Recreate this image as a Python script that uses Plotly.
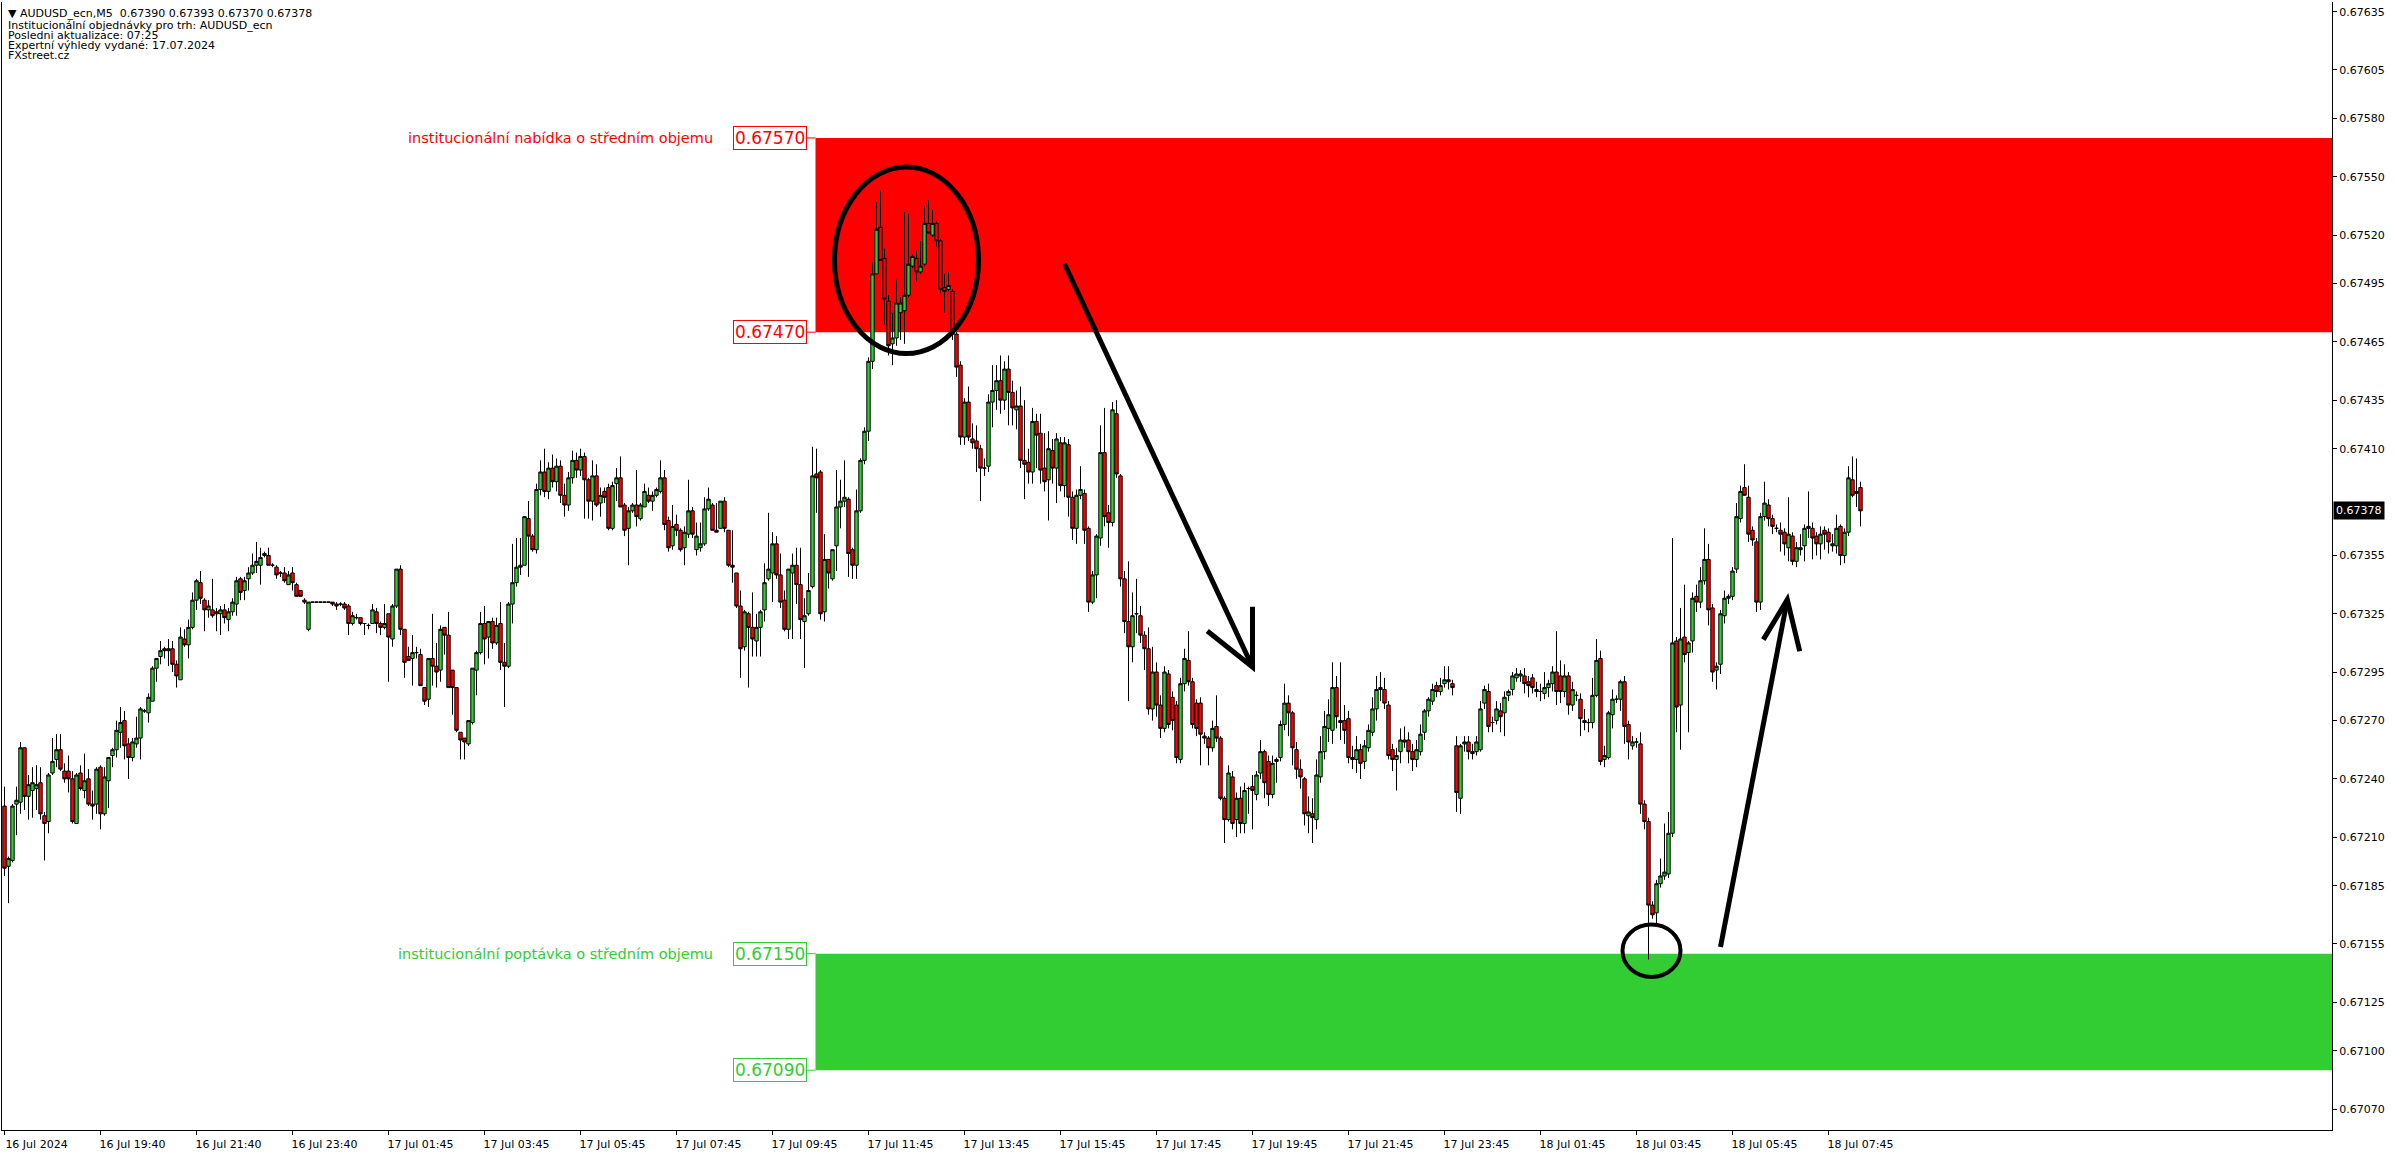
import plotly.graph_objects as go

# ---------------- data (prices in points above 0.67000, M5 bars) ----------------
BASE = 0.67

OPEN_PTS = [
    226,195,198,227,228,256,231,234,235,238, 221,218,243,250,255,244,244,240,217,243,
    234,240,227,227,246,222,239,252,255,264, 270,258,251,258,261,275,274,280,297,303,
    307,306,307,299,291,312,309,318,332,341, 332,327,327,325,325,327,322,326,330,343,
    337,343,346,350,350,355,355,350,349,346, 346,340,346,340,337,332,317,331,331,331,
    331,331,331,330,330,330,329,320,323,323, 320,319,320,326,320,318,325,312,329,348,
    317,303,302,305,304,287,281,302,298,296, 318,314,296,287,264,261,258,269,296,305,
    320,313,321,310,320,300,298,330,341,349, 350,374,365,358,389,398,388,400,393,401,
    386,381,395,404,399,406,394,383,396,382, 388,390,369,392,395,381,369,378,381,374,
    380,386,383,386,388,395,373,360,371,368, 359,366,378,358,359,361,379,381,368,369,
    383,368,350,346,329,308,325,318,311,318, 327,343,346,361,345,332,317,346,350,340,
    321,325,339,397,398,326,353,343,360,380, 383,384,358,350,378,404,419,455,500,524,
    508,486,464,467,480,481,489,504,508,501, 505,526,520,526,517,493,492,491,469,453,
    416,434,415,414,410,400,401,434,440,445, 435,451,439,430,432,404,403,398,424,418,
    400,394,409,400,413,391,412,385,369,386, 387,369,331,345,364,408,377,372,428,396,
    343,321,308,325,324,314,307,276,295,278, 266,294,282,278,250,289,301,290,279,279,
    262,261,256,267,261,230,219,241,219,230, 217,235,236,232,243,254,249,232,249,251,
    268,279,274,255,245,240,221,222,219,241, 254,266,265,287,270,270,271,251,250,255,
    249,256,264,276,286,286,278,255,250,254, 260,260,254,250,254,264,275,280,288,285,
    289,291,289,257,230,258,259,253,254,255, 279,285,269,270,275,274,283,286,292,293,
    293,290,292,286,285,284,287,289,295,293, 285,293,278,283,281,270,269,269,283,302,
    250,251,273,281,281,290,268,257,259,258, 227,218,175,171,186,190,191,212,311,278,
    313,305,311,334,331,342,353,328,296,299, 324,333,334,348,374,390,385,368,362,331,
    375,381,374,369,368,367,359,365,352,358, 360,370,369,365,361,368,367,360,360,370,
    355,367,394,388,390,
]

HIGH_PTS = [
    236,200,227,236,259,256,242,246,247,246, 223,243,261,263,263,248,252,244,243,247,
    253,245,234,246,247,246,251,256,270,277, 275,261,261,272,277,276,284,298,302,311,
    308,312,311,301,318,317,322,336,343,347, 333,332,343,328,329,330,328,333,344,344,
    344,349,356,362,359,357,359,351,350,347, 349,347,349,341,337,333,331,331,331,331,
    331,331,331,331,331,331,330,326,325,323, 320,320,330,328,321,330,325,330,348,350,
    317,308,314,308,307,287,302,325,310,319, 318,326,296,287,264,261,270,297,306,326,
    329,321,323,323,331,310,331,361,364,364, 375,383,366,392,404,410,403,407,405,404,
    392,398,409,408,410,408,395,404,402,390, 390,392,393,400,406,382,380,382,399,382,
    392,390,388,390,404,399,375,381,376,369, 370,394,380,372,372,385,390,382,382,383,
    385,368,368,346,337,327,326,336,325,327, 351,377,367,365,356,337,348,356,359,359,
    333,346,411,410,399,366,353,358,399,394, 404,385,359,389,405,421,457,506,537,543,
    513,489,480,497,488,532,531,510,512,517, 535,538,533,527,518,500,501,492,470,455,
    436,442,423,422,412,405,438,453,453,458, 455,458,445,440,442,435,410,431,428,428,
    418,419,415,418,416,416,415,388,389,401, 389,370,347,366,422,431,381,434,435,397,
    347,352,336,343,329,316,318,308,300,283, 298,296,285,280,292,307,316,292,281,282,
    264,262,270,283,262,231,247,244,233,236, 238,236,242,244,260,255,252,252,251,270,
    289,283,275,259,250,241,231,230,250,262, 275,281,300,293,300,278,275,257,262,258,
    260,268,282,293,295,292,280,258,256,266, 267,264,258,260,268,276,282,289,290,292,
    298,298,291,262,258,262,262,258,262,280, 288,289,272,280,279,285,286,295,297,296,
    297,293,294,290,289,295,291,298,316,301, 299,295,290,285,284,276,271,292,312,306,
    257,275,286,283,291,293,270,262,261,264, 229,220,177,188,199,217,223,364,313,328,
    340,311,336,340,349,369,361,330,300,327, 337,335,349,382,391,402,391,370,364,377,
    393,384,376,371,372,369,385,367,362,366, 371,388,372,367,370,370,369,366,376,371,
    369,401,406,405,393,
]

LOW_PTS = [
    190,176,197,211,222,224,219,220,224,219, 198,212,242,246,244,238,233,217,217,234,
    230,226,219,222,214,221,225,246,251,256, 250,240,249,256,250,274,269,280,290,299,
    302,298,295,287,291,308,302,317,327,330, 316,323,323,316,314,320,316,324,324,332,
    332,337,345,346,340,354,350,349,343,344, 341,340,337,334,334,330,316,331,331,331,
    331,331,329,327,329,327,314,319,322,319, 314,317,320,315,314,317,290,308,328,314,
    292,301,288,302,288,278,277,288,287,290, 304,287,273,264,250,250,257,268,283,304,
    299,302,307,309,296,277,297,320,339,345, 350,344,357,356,386,385,384,390,388,382,
    375,378,392,395,396,374,374,373,380,375, 382,368,368,383,380,365,350,377,370,373,
    380,382,378,385,387,368,357,358,365,357, 350,364,364,355,357,360,378,368,367,369,
    367,349,341,328,292,306,287,303,303,303, 321,342,331,343,328,316,312,312,330,312,
    297,324,338,377,322,321,338,342,347,369, 380,344,343,343,377,402,414,451,500,507,
    474,458,453,463,466,464,488,503,496,500, 504,521,519,514,490,480,491,466,447,412,
    412,414,410,398,383,396,398,421,430,428, 430,422,422,420,400,384,392,392,400,392,
    388,373,392,382,388,385,375,363,361,384, 361,326,330,333,360,370,359,370,395,339,
    315,280,300,315,310,296,273,270,272,261, 264,266,265,248,248,285,288,266,262,247,
    258,247,254,259,229,207,218,214,210,212, 212,222,214,229,240,230,226,230,238,249,
    265,262,247,240,235,216,212,207,214,238, 250,259,258,266,260,258,248,245,243,240,
    245,254,262,270,280,276,250,244,234,248, 256,248,244,246,252,260,272,278,282,283,
    287,286,283,223,222,254,250,250,252,254, 276,264,264,268,264,262,280,283,290,290,
    284,282,284,282,280,281,282,285,278,279, 282,273,275,280,262,265,264,266,282,247,
    246,250,266,279,275,258,250,255,256,222, 214,147,168,164,184,188,189,210,264,255,
    300,264,305,326,328,340,319,290,286,294, 320,330,332,346,372,386,362,360,326,327,
    373,370,366,367,357,355,352,350,349,355, 352,364,353,355,353,358,356,357,356,350,
    351,365,385,380,370,
]

CLOSE_PTS = [
    194,199,226,229,256,231,237,238,237,222, 217,242,249,255,245,240,240,218,242,235,
    239,227,226,245,222,241,251,255,265,269, 257,251,259,261,276,275,282,297,302,306,
    306,307,299,293,313,309,318,332,342,333, 327,329,324,326,327,323,326,331,342,336,
    342,346,350,352,354,356,350,350,345,346, 342,345,341,334,334,331,331,331,331,331,
    331,331,330,329,330,328,320,324,323,320, 320,319,327,320,318,320,313,329,348,317,
    300,301,305,305,288,280,302,298,295,317, 314,287,287,265,260,259,270,297,305,320,
    312,321,310,319,300,298,330,341,349,350, 375,365,358,389,398,388,400,393,401,386,
    381,395,404,399,406,394,383,396,381,386, 385,369,391,395,380,368,378,381,375,381,
    388,383,386,389,395,371,359,370,368,358, 367,378,366,365,361,379,384,368,367,383,
    369,350,349,329,307,326,318,312,318,326, 341,348,361,345,331,317,348,350,340,322,
    324,337,396,395,325,353,346,358,380,383, 385,356,350,378,404,419,455,500,523,507,
    487,463,467,485,485,489,505,509,501,504, 526,521,526,517,492,491,494,469,452,416,
    434,416,413,410,400,400,434,440,445,435, 451,439,431,432,404,402,398,424,417,399,
    393,410,400,415,391,413,385,369,386,389, 368,331,345,365,408,375,372,430,397,343,
    321,308,324,325,314,307,276,295,278,266, 295,268,270,251,289,302,290,268,266,263,
    261,256,266,261,230,219,243,217,230,217, 234,235,234,242,254,238,232,248,250,268,
    279,274,256,245,241,222,223,220,242,254, 267,273,287,272,269,265,251,250,255,248,
    257,265,276,286,287,279,252,250,252,260, 259,254,250,255,263,275,281,286,285,288,
    291,290,287,233,257,259,254,254,259,276, 286,267,269,276,272,282,285,293,294,294,
    289,288,287,285,285,287,289,295,285,285, 293,278,286,283,271,269,269,283,301,249,
    252,274,281,281,290,267,259,259,259,227, 218,175,170,186,190,192,212,310,277,312,
    304,310,333,331,342,353,327,295,298,325, 333,334,347,375,388,386,366,363,331,375,
    382,374,370,369,366,361,366,352,359,359, 369,369,364,361,366,366,362,361,369,355,
    367,395,386,387,378,
]

X_TICK_BARS = [0, 24, 48, 72, 96, 120, 144, 168, 192, 216, 240, 264, 288, 312,
               336, 360, 384, 408, 432, 456]
X_TICK_TEXT = ["16 Jul 2024", "16 Jul 19:40", "16 Jul 21:40", "16 Jul 23:40",
               "17 Jul 01:45", "17 Jul 03:45", "17 Jul 05:45", "17 Jul 07:45",
               "17 Jul 09:45", "17 Jul 11:45", "17 Jul 13:45", "17 Jul 15:45",
               "17 Jul 17:45", "17 Jul 19:45", "17 Jul 21:45", "17 Jul 23:45",
               "18 Jul 01:45", "18 Jul 03:45", "18 Jul 05:45", "18 Jul 07:45"]
Y_TICK_VALS = [0.67635, 0.67605, 0.67580, 0.67550, 0.67520, 0.67495, 0.67465,
               0.67435, 0.67410, 0.67355, 0.67325, 0.67295, 0.67270, 0.67240,
               0.67210, 0.67185, 0.67155, 0.67125, 0.67100, 0.67070]
Y_TICK_TEXT = ["%.5f" % v for v in Y_TICK_VALS]

LAST_PRICE = 0.67378
HEADER_LINES = ["\u25BC AUDUSD_ecn,M5  0.67390 0.67393 0.67370 0.67378",
                "Institucionální objednávky pro trh: AUDUSD_ecn",
                "Posledni aktualizace: 07:25",
                "Expertní výhledy vydané: 17.07.2024",
                "FXstreet.cz"]

SUPPLY_ZONE = (0.67470, 0.67570)
DEMAND_ZONE = (0.67090, 0.67150)
SUPPLY_LABEL = "institucionální nabídka o středním objemu"
DEMAND_LABEL = "institucionální poptávka o středním objemu"
ZONE_START_BAR = 202.75

# drawn annotations (bar index, price)
ELLIPSE_TOP = (207.5, 243.5, 0.67459, 0.67555)
ELLIPSE_LOW = (404.5, 419.0, 0.67138, 0.67165)
ARROW_DOWN = [(265.0, 0.675052), (312.0, 0.672976)]
ARROW_DOWN_HEAD = [(312.0, 0.673286), (312.0, 0.672976), (300.7, 0.673161)]
ARROW_UP = [(429.0, 0.671534), (445.7, 0.673323)]
ARROW_UP_HEAD = [(439.7, 0.673117), (445.7, 0.673323), (448.8, 0.673057)]

X_RANGE = [-0.625, 581.875]
Y_RANGE = [0.670592, 0.676400]

# ---------------- figure ----------------
def to_price(lst):
    return [round(BASE + p / 1e5, 5) for p in lst]

bars = list(range(len(CLOSE_PTS)))
FONT = "DejaVu Sans"
RED = "#FF0000"
GREEN = "#32CD32"

fig = go.Figure(go.Candlestick(
    x=bars, open=to_price(OPEN_PTS), high=to_price(HIGH_PTS),
    low=to_price(LOW_PTS), close=to_price(CLOSE_PTS),
    increasing=dict(line=dict(color="black", width=1), fillcolor=GREEN),
    decreasing=dict(line=dict(color="black", width=1), fillcolor=RED),
    whiskerwidth=0, hoverinfo="skip", showlegend=False,
))

shapes = []
for (y0, y1), col in ((SUPPLY_ZONE, RED), (DEMAND_ZONE, GREEN)):
    shapes.append(dict(type="rect", xref="x", yref="y", x0=ZONE_START_BAR, x1=X_RANGE[1],
                       y0=y0, y1=y1, fillcolor=col, line=dict(width=0), layer="below"))
    for yy in (y0, y1):
        shapes.append(dict(type="line", xref="x", yref="y", x0=200.5, x1=ZONE_START_BAR,
                           y0=yy, y1=yy, line=dict(color=col, width=1)))

for (x0, x1, y0, y1), w in ((ELLIPSE_TOP, 5), (ELLIPSE_LOW, 4)):
    shapes.append(dict(type="circle", xref="x", yref="y", x0=x0, x1=x1, y0=y0, y1=y1,
                       line=dict(color="black", width=w)))

def path_of(pts):
    return "M " + " L ".join("%s,%s" % (x, y) for x, y in pts)

for pts in (ARROW_DOWN, ARROW_DOWN_HEAD, ARROW_UP, ARROW_UP_HEAD):
    shapes.append(dict(type="path", xref="x", yref="y", path=path_of(pts),
                       line=dict(color="black", width=5)))

annotations = []
for i, line in enumerate(HEADER_LINES):
    yc = 13 if i == 0 else 15 + 10 * i
    annotations.append(dict(xref="paper", yref="paper", x=0, y=1, xanchor="left",
                            yanchor="middle", xshift=4, yshift=-(yc - 2),
                            text=line, showarrow=False,
                            font=dict(family=FONT, size=11, color="black")))

for (y0, y1), col, label in ((SUPPLY_ZONE, RED, SUPPLY_LABEL), (DEMAND_ZONE, GREEN, DEMAND_LABEL)):
    annotations.append(dict(xref="x", yref="y", x=177.5, y=y1, xanchor="right",
                            yanchor="middle", text=label, showarrow=False,
                            font=dict(family=FONT, size=14.5, color=col)))
    for yy in (y0, y1):
        annotations.append(dict(xref="x", yref="y", x=200.5, y=yy, xanchor="right",
                                yanchor="middle", text="%.5f" % yy, showarrow=False,
                                bordercolor=col, borderwidth=1, borderpad=1,
                                bgcolor="white",
                                font=dict(family=FONT, size=17, color=col)))

annotations.append(dict(xref="paper", yref="y", x=1, y=LAST_PRICE, xanchor="left",
                        yanchor="middle", xshift=1, text="%.5f" % LAST_PRICE,
                        showarrow=False, bgcolor="black", borderpad=2,
                        font=dict(family=FONT, size=11, color="white")))

fig.update_layout(
    width=2396, height=1154,
    margin=dict(l=2, r=64, t=2, b=24, pad=0),
    paper_bgcolor="white", plot_bgcolor="white",
    showlegend=False, boxgap=0.15, boxgroupgap=0,
    font=dict(family=FONT, size=11, color="black"),
    shapes=shapes, annotations=annotations,
    xaxis=dict(range=X_RANGE, rangeslider=dict(visible=False), showgrid=False,
               zeroline=False, showline=True, linecolor="black", linewidth=1,
               mirror=False, ticks="outside", ticklen=4, tickcolor="black",
               tickvals=X_TICK_BARS, ticktext=X_TICK_TEXT, ticklabelshift=32,
               tickfont=dict(family=FONT, size=11, color="black")),
    yaxis=dict(range=Y_RANGE, side="right", showgrid=False, zeroline=False,
               showline=True, linecolor="black", linewidth=1, mirror=True,
               ticks="outside", ticklen=4, tickcolor="black",
               tickvals=Y_TICK_VALS, ticktext=Y_TICK_TEXT,
               tickfont=dict(family=FONT, size=11, color="black")),
)

fig.write_html("out.html", config={"displayModeBar": False},
               post_script="document.body.style.margin='0';document.body.style.overflow='hidden';")
